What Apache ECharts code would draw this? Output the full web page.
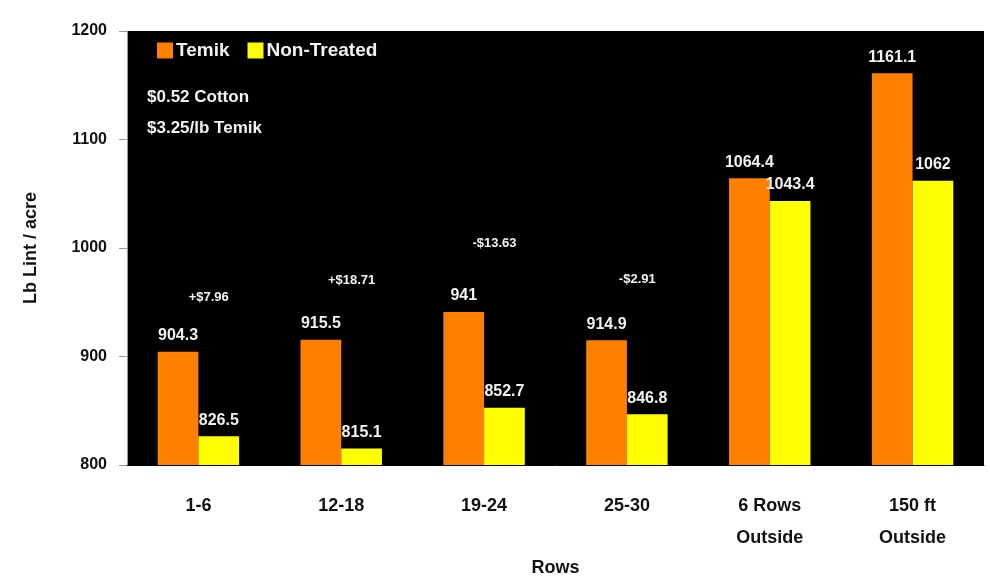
<!DOCTYPE html>
<html>
<head>
  <meta charset="utf-8" />
  <title>Temik vs Non-Treated</title>
  <script src="https://cdn.jsdelivr.net/npm/echarts@6/dist/echarts.min.js"></script>
  <style>
    html, body { margin: 0; padding: 0; background: #fff; }
    #main { width: 990px; height: 579px; }
  </style>
</head>
<body>
  <div id="main"></div>
  <script type="text/javascript">
    const categories = ['1-6', '12-18', '19-24', '25-30', '6 Rows\nOutside', '150 ft\nOutside'];
    const temik = [904.3, 915.5, 941, 914.9, 1064.4, 1161.1];
    const nonTreated = [826.5, 815.1, 852.7, 846.8, 1043.4, 1062];
    // net return notes over the first four groups
    const notes = ['+$7.96', '+$18.71', '-$13.63', '-$2.91'];
    const noteLevels = [954, 970, 1004, 971];
    const yTicks = [800, 900, 1000, 1100, 1200];

    const font = 'Liberation Sans';
    const chart = echarts.init(document.getElementById('main'));

    const noteMarks = notes.map((t, i) => ({
      coord: [categories[i], noteLevels[i]],
      label: { formatter: t }
    }));

    chart.setOption({
      animation: false,
      textStyle: { fontFamily: font },
      grid: {
        left: 127, right: 6, top: 31, bottom: 114,
        outerBoundsMode: 'none', containLabel: false,
        show: true, backgroundColor: '#000', borderWidth: 0
      },
      legend: {
        left: 152, top: 36,
        itemWidth: 16, itemHeight: 16, itemGap: 18,
        icon: 'rect',
        textStyle: { color: '#f2f2f2', fontSize: 19, fontWeight: 'bold', fontFamily: font, padding: [0, 0, 0, -2] },
        data: ['Temik', 'Non-Treated']
      },
      graphic: [{
        type: 'text', left: 147, top: 82,
        style: {
          text: '$0.52 Cotton\n$3.25/lb Temik',
          fill: '#f2f2f2', font: 'bold 17px Liberation Sans', lineHeight: 31
        }
      }],
      xAxis: {
        type: 'category',
        data: categories,
        name: 'Rows',
        nameLocation: 'middle',
        nameGap: 88,
        nameTextStyle: { color: '#111', fontSize: 18, fontWeight: 'bold' },
        axisLine: { lineStyle: { color: '#000', width: 1 } },
        axisTick: { length: 7, lineStyle: { color: '#000' } },
        axisLabel: { color: '#111', fontSize: 18, fontWeight: 'bold', margin: 25, lineHeight: 32 }
      },
      yAxis: {
        type: 'value',
        min: yTicks[0], max: yTicks[yTicks.length - 1], interval: 100,
        name: 'Lb Lint / acre',
        nameLocation: 'middle',
        nameGap: 87,
        nameTextStyle: { color: '#111', fontSize: 18, fontWeight: 'bold' },
        splitLine: { show: false },
        axisLine: { show: true, lineStyle: { color: '#999' } },
        axisTick: { show: true, length: 8, lineStyle: { color: '#999' } },
        axisLabel: { color: '#111', fontSize: 16, fontWeight: 'bold', margin: 20, formatter: v => String(v) }
      },
      series: [
        {
          name: 'Temik', type: 'bar', data: temik,
          itemStyle: { color: '#ff8000' },
          barGap: '0%', barCategoryGap: '43%',
          label: { show: true, position: 'top', distance: 8, color: '#f2f2f2', fontSize: 16, fontWeight: 'bold' }
        },
        {
          name: 'Non-Treated', type: 'bar', data: nonTreated,
          itemStyle: { color: '#ffff00' },
          label: { show: true, position: 'top', distance: 8, color: '#f2f2f2', fontSize: 16, fontWeight: 'bold' },
          markPoint: {
            symbol: 'circle', symbolSize: 0,
            label: { show: true, position: 'inside', offset: [-10, 0], color: '#f2f2f2', fontSize: 13, fontWeight: 'bold' },
            data: noteMarks
          }
        }
      ]
    });
  </script>
</body>
</html>
